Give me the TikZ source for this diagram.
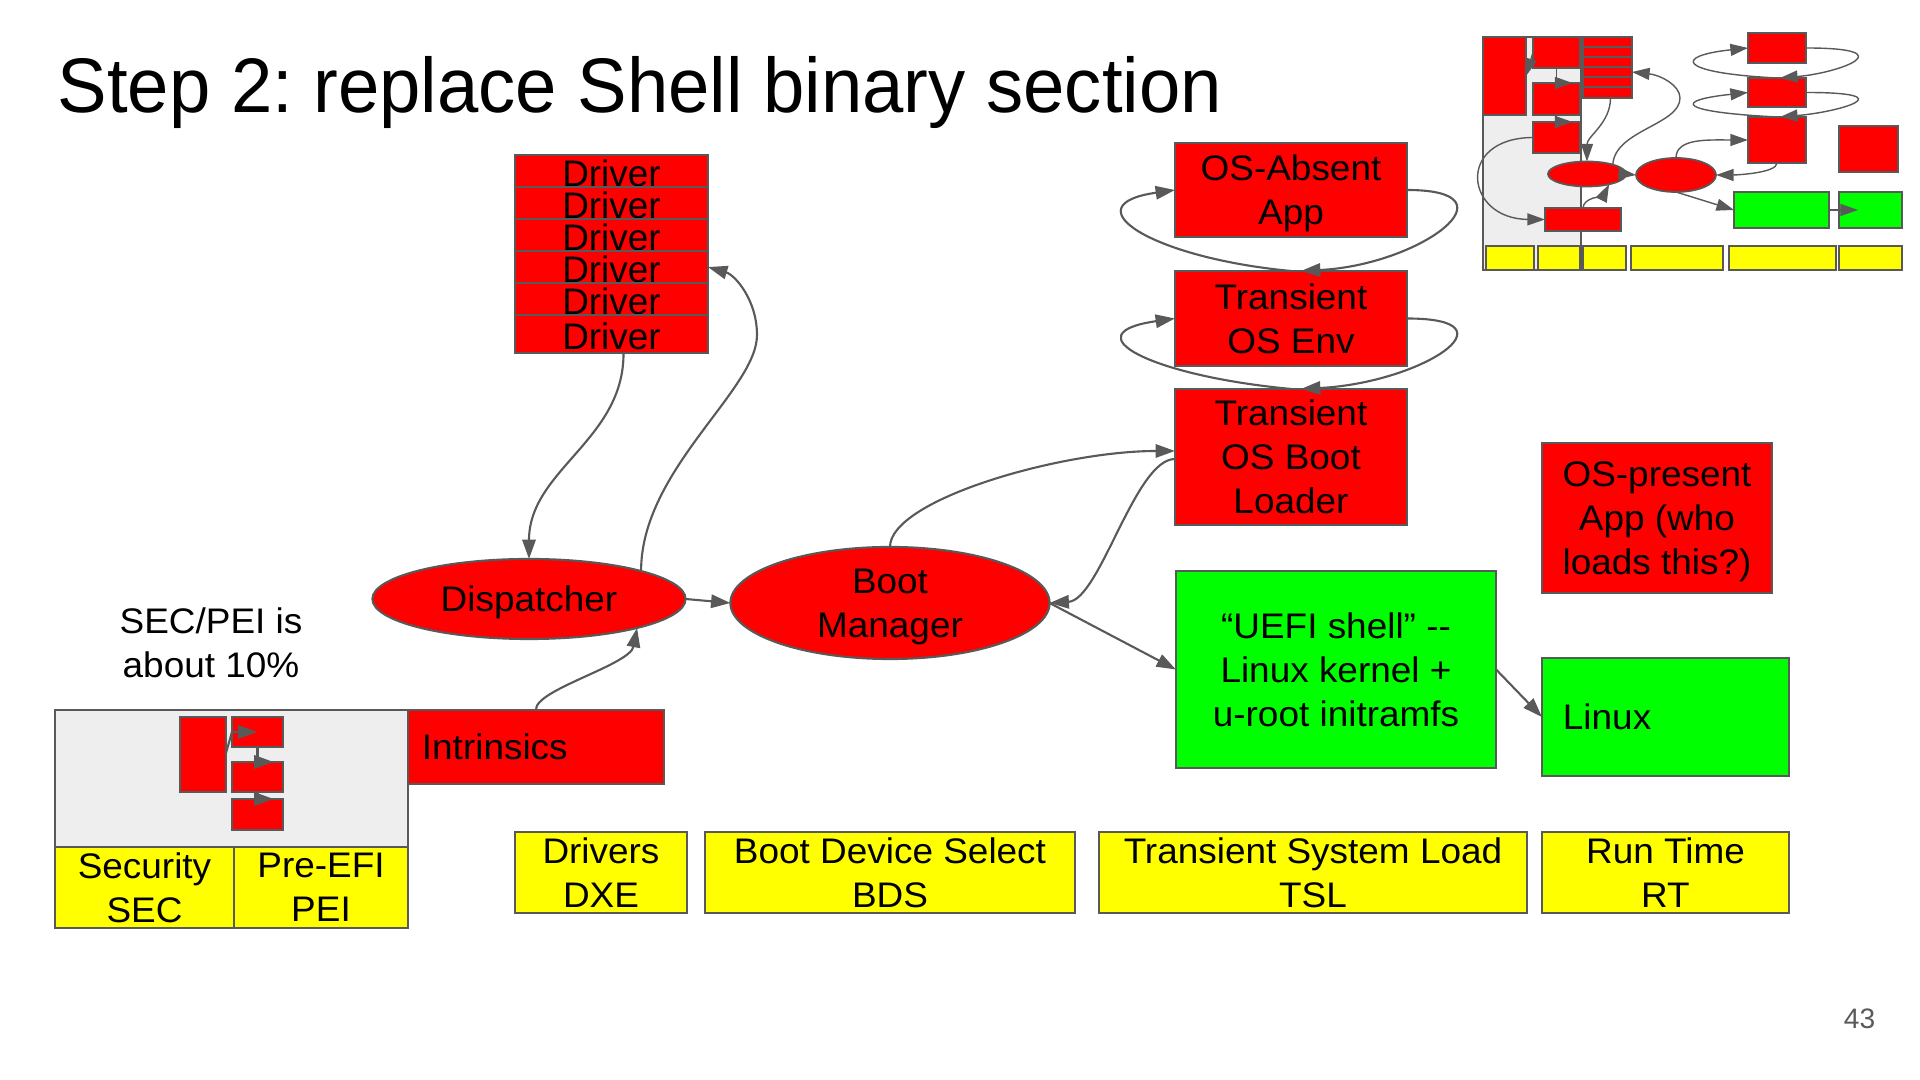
\documentclass[tikz,border=0pt]{standalone}
\usepackage{fontspec}
\setmainfont{Liberation Sans}
\newfontfamily\bodyfont[FakeStretch=1.04]{Liberation Sans}
\newfontfamily\titlefont[FakeStretch=0.96]{Liberation Sans}
\usetikzlibrary{positioning,shapes.geometric,arrows.meta}
\definecolor{slred}{HTML}{FF0000}
\definecolor{slgreen}{HTML}{00FF00}
\definecolor{slyellow}{HTML}{FFFF00}
\definecolor{slline}{HTML}{595959}
\definecolor{slpanel}{HTML}{EEEEEE}
\newcommand{\slidetext}{\bodyfont\fontsize{10.1}{12.5}\selectfont}
\frenchspacing
\tikzset{
  box/.style={draw=slline,line width=0.6pt,inner sep=0pt,outer sep=0pt,align=center,font=\slidetext,text depth=0pt},
  redbox/.style={box,fill=slred},
  greenbox/.style={box,fill=slgreen},
  yellowbox/.style={box,fill=slyellow,minimum height=0.81cm},
  driverbox/.style={redbox,minimum width=1.93cm,minimum height=0.32cm,font=\fontsize{10.5}{12.5}\selectfont,text height=8.8pt,text depth=-0.6pt},
  oval/.style={box,ellipse,fill=slred,inner xsep=0pt,inner ysep=-8pt},
  flow/.style={slline,line width=0.6pt,-{Triangle[length=5.5pt,width=3.8pt]}},
  tiny/.style={draw=slline,line width=0.5pt,inner sep=0pt,outer sep=0pt},
  tinyflow/.style={slline,line width=0.4pt,-{Triangle[length=5pt,width=3.4pt]}}
}
\begin{document}
\begin{tikzpicture}[x=0.01cm,y=0.01cm]
\useasboundingbox (0,0) rectangle (1920,-1080);
\node[anchor=base west,inner sep=0pt,font=\titlefont\fontsize{22}{26}\selectfont] (title) at (57,-113) {Step 2: replace Shell binary section};

\node[driverbox] (drv1) at (611.5,-171) {Driver};
\node[driverbox] (drv2) [below=0pt of drv1] {Driver};
\node[driverbox] (drv3) [below=0pt of drv2] {Driver};
\node[driverbox] (drv4) [below=0pt of drv3] {Driver};
\node[driverbox] (drv5) [below=0pt of drv4] {Driver};
\node[driverbox,minimum height=0.38cm] (drv6) [below=0pt of drv5] {Driver};

\node[oval,minimum width=3.13cm,minimum height=0.80cm] (disp) at (529,-599) {Dispatcher};
\node[oval,minimum width=3.19cm,minimum height=1.12cm] (boot) at (890,-603) {Boot\\Manager};

\node[box,fill=slpanel,minimum width=3.53cm,minimum height=2.18cm] (panel) at (231.5,-819) {};
\node[redbox,minimum width=0.46cm,minimum height=0.75cm] (secbig) at (203,-754.5) {};
\node[redbox,minimum width=0.51cm,minimum height=0.30cm] (pei1) at (257.5,-732) {};
\node[redbox,minimum width=0.51cm,minimum height=0.30cm] (pei2) at (257.5,-777) {};
\node[redbox,minimum width=0.51cm,minimum height=0.31cm] (pei3) at (257.5,-814.5) {};
\node[yellowbox,minimum width=1.79cm] (sec) at (144.5,-887.5) {Security\\SEC};
\node[yellowbox,minimum width=1.74cm] (pei) at (321,-887.5) {Pre-EFI\\PEI};
\node[redbox,minimum width=2.56cm,minimum height=0.74cm,text width=2.28cm,inner xsep=0.14cm,align=left] (intr) at (536,-747) {Intrinsics};
\node[font=\slidetext,align=center] (note) at (211,-643) {SEC/PEI is\\about 10\%};

\node[redbox,minimum width=2.32cm,minimum height=0.94cm] (absent) at (1291,-190) {OS-Absent\\App};
\node[redbox,minimum width=2.32cm,minimum height=0.95cm] (tenv) at (1291,-318.5) {Transient\\OS Env};
\node[redbox,minimum width=2.32cm,minimum height=1.36cm] (tload) at (1291,-457) {Transient\\OS Boot\\Loader};
\node[redbox,minimum width=2.30cm,minimum height=1.50cm] (present) at (1657,-518) {OS-present\\App (who\\loads this?)};
\node[greenbox,minimum width=3.20cm,minimum height=1.97cm] (shell) at (1336,-669.5) {“UEFI shell” -{}-\\Linux kernel +\\u-root initramfs};
\node[greenbox,minimum width=2.47cm,minimum height=1.18cm,text width=2.05cm,inner xsep=0.21cm,align=left] (linux) at (1665.5,-717) {Linux};

\node[yellowbox,minimum width=1.72cm] (dxe) at (601,-872.5) {Drivers\\DXE};
\node[yellowbox,minimum width=3.70cm] (bds) at (890,-872.5) {Boot Device Select\\BDS};
\node[yellowbox,minimum width=4.28cm] (tsl) at (1313,-872.5) {Transient System Load\\TSL};
\node[yellowbox,minimum width=2.47cm] (rt) at (1665.5,-872.5) {Run Time\\RT};

\node[text=slline,font=\fontsize{8}{9.6}\selectfont,anchor=base] (page) at (1859.5,-1029) {43};

\draw[flow] ([yshift=-0.36cm]secbig.north east) -- (pei1.west) -- (pei1.center);
\draw[flow] (pei1.south) -- (pei2.north) -- ([xshift=0.16cm]pei2.north);
\draw[flow] (pei2.south) -- (pei3.north) -- ([xshift=0.16cm]pei3.north);

\draw[flow] ([xshift=0.12cm]drv6.south) .. controls (624,-440) and (529,-470) .. (disp.north);
\draw[flow] (disp.14) .. controls (641,-470) and (757,-390) .. (757,-335) .. controls (757,-300) and (735,-275) .. (drv4.east);
\draw[flow] (intr.north) .. controls (534,-690) and (630,-665) .. (disp.-15);
\draw[flow] (disp.east) -- (boot.west);
\draw[flow] (boot.north) .. controls (890,-500) and (1060,-451) .. ([yshift=0.06cm]tload.west);
\draw[flow] ([yshift=-0.02cm]tload.west) .. controls (1135,-459) and (1100,-600) .. (boot.east);
\draw[flow] (boot.east) -- (shell.west);
\draw[flow] (shell.east) -- (linux.west);
\draw[flow] (tenv.north) .. controls +(-140,13) and +(-105,-15) .. (absent.west);
\draw[flow] (absent.east) .. controls +(113,0) and +(120,6) .. ([xshift=0.10cm]tenv.north);
\draw[flow] (tload.north) .. controls +(-140,13) and +(-105,-15) .. (tenv.west);
\draw[flow] (tenv.east) .. controls +(113,0) and +(120,6) .. ([xshift=0.10cm]tload.north);

\node[tiny,fill=slpanel,minimum width=0.98cm,minimum height=2.33cm] (mpanel) at (1532,-153.5) {};
\node[tiny,fill=slred,minimum width=0.43cm,minimum height=0.78cm] (mbig) at (1504.5,-76) {};
\node[tiny,fill=slred,minimum width=0.47cm,minimum height=0.31cm] (mA) at (1556.5,-52.5) {};
\node[tiny,fill=slred,minimum width=0.47cm,minimum height=0.32cm] (mB) at (1556.5,-99) {};
\node[tiny,fill=slred,minimum width=0.47cm,minimum height=0.31cm] (mC) at (1556.5,-137.5) {};
\node[tiny,fill=slred,minimum width=0.49cm,minimum height=0.10cm] (mdrv1) at (1607.5,-42) {};
\node[tiny,fill=slred,minimum width=0.49cm,minimum height=0.10cm] (mdrv2) [below=0pt of mdrv1] {};
\node[tiny,fill=slred,minimum width=0.49cm,minimum height=0.10cm] (mdrv3) [below=0pt of mdrv2] {};
\node[tiny,fill=slred,minimum width=0.49cm,minimum height=0.10cm] (mdrv4) [below=0pt of mdrv3] {};
\node[tiny,fill=slred,minimum width=0.49cm,minimum height=0.10cm] (mdrv5) [below=0pt of mdrv4] {};
\node[tiny,fill=slred,minimum width=0.49cm,minimum height=0.11cm] (mdrv6) [below=0pt of mdrv5] {};
\node[tiny,ellipse,fill=slred,minimum width=0.78cm,minimum height=0.25cm] (mdisp) at (1587,-174) {};
\node[tiny,ellipse,fill=slred,minimum width=0.80cm,minimum height=0.34cm] (mboot) at (1676,-175) {};
\node[tiny,fill=slred,minimum width=0.76cm,minimum height=0.23cm] (mintr) at (1583,-219.5) {};
\node[tiny,fill=slred,minimum width=0.58cm,minimum height=0.30cm] (mabsent) at (1777,-48) {};
\node[tiny,fill=slred,minimum width=0.58cm,minimum height=0.29cm] (menv) at (1777,-92.5) {};
\node[tiny,fill=slred,minimum width=0.58cm,minimum height=0.46cm] (mload) at (1777,-140) {};
\node[tiny,fill=slred,minimum width=0.59cm,minimum height=0.46cm] (mpresent) at (1868.5,-149) {};
\node[tiny,fill=slgreen,minimum width=0.95cm,minimum height=0.36cm] (mshell) at (1781.5,-210) {};
\node[tiny,fill=slgreen,minimum width=0.63cm,minimum height=0.36cm] (mlinux) at (1870.5,-210) {};
\node[tiny,fill=slyellow,minimum width=0.48cm,minimum height=0.24cm] (my1) at (1510,-258) {};
\node[tiny,fill=slyellow,minimum width=0.42cm,minimum height=0.24cm] (my2) at (1559,-258) {};
\node[tiny,fill=slyellow,minimum width=0.43cm,minimum height=0.24cm] (my3) at (1604.5,-258) {};
\node[tiny,fill=slyellow,minimum width=0.92cm,minimum height=0.24cm] (my4) at (1677,-258) {};
\node[tiny,fill=slyellow,minimum width=1.07cm,minimum height=0.24cm] (my5) at (1782.5,-258) {};
\node[tiny,fill=slyellow,minimum width=0.63cm,minimum height=0.24cm] (my6) at (1870.5,-258) {};

\draw[tinyflow] (mA.west) -- (mbig.east);
\draw[tinyflow] (mA.south) -- (mB.north) -- ([xshift=0.16cm]mB.north);
\draw[tinyflow] (mB.south) -- (mC.north) -- ([xshift=0.16cm]mC.north);
\draw[tinyflow] (mC.west) .. controls (1455,-138) and (1465,-219) .. (mintr.west);
\draw[tinyflow] ([xshift=0.03cm]mdrv6.south) .. controls +(0,-25) and +(0,25) .. (mdisp.north);
\draw[tinyflow] (mdisp.20) .. controls (1615,-130) and (1680,-125) .. (1680,-98) .. controls (1680,-85) and (1660,-75) .. (mdrv4.east);
\draw[tinyflow] (mintr.north) .. controls +(0,10) and +(-5,-10) .. (mdisp.-25);
\draw[tinyflow] (mdisp.east) -- (mboot.west);
\draw[tinyflow] (mboot.north) .. controls +(0,20) and +(-40,0) .. (mload.west);
\draw[tinyflow] (mload.south) .. controls +(0,-10) and +(20,0) .. (mboot.east);
\draw[tinyflow] (mboot.south) -- (mshell.west);
\draw[tinyflow] (mshell.east) -- ([xshift=0.19cm]mlinux.west);
\draw[tinyflow] (menv.north) .. controls +(-100,5) and +(-75,-8) .. (mabsent.west);
\draw[tinyflow] (mabsent.east) .. controls +(100,0) and +(60,5) .. ([xshift=0.03cm]menv.north);
\draw[tinyflow] (mload.north) .. controls +(-100,5) and +(-75,-8) .. (menv.west);
\draw[tinyflow] (menv.east) .. controls +(100,0) and +(60,5) .. ([xshift=0.03cm]mload.north);
\end{tikzpicture}
\end{document}
